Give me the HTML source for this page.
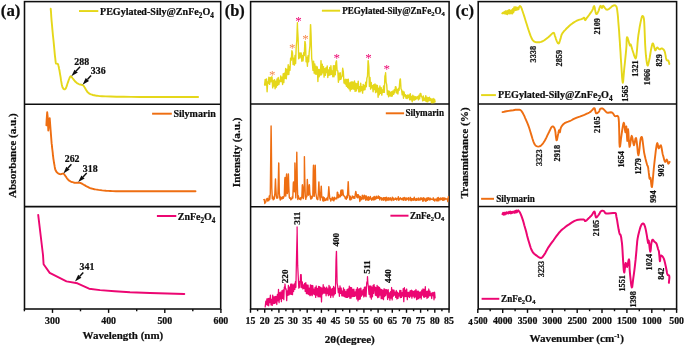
<!DOCTYPE html>
<html><head><meta charset="utf-8"><title>figure</title>
<style>
html,body{margin:0;padding:0;background:#fff;overflow:hidden}
svg{display:block;will-change:transform}
text{font-family:"Liberation Serif","DejaVu Serif",serif;font-weight:bold;fill:#0e0e0e;stroke:#0e0e0e;stroke-width:0.22px}
</style></head><body>
<svg width="685" height="347" viewBox="0 0 685 347">
<rect width="685" height="347" fill="#fff"/>
<rect x="24.5" y="1.6" width="196.2" height="307.4" fill="none" stroke="#0e0e0e" stroke-width="1.55"/>
<line x1="24.5" y1="104.25" x2="220.7" y2="104.25" stroke="#0e0e0e" stroke-width="1.55"/>
<line x1="24.5" y1="206.6" x2="220.7" y2="206.6" stroke="#0e0e0e" stroke-width="1.55"/>
<text x="0.8" y="16.2" font-size="16.5" textLength="19.6" lengthAdjust="spacingAndGlyphs" >(a)</text>
<line x1="52.5" y1="309.0" x2="52.5" y2="312.9" stroke="#0e0e0e" stroke-width="1.4"/>
<line x1="108.6" y1="309.0" x2="108.6" y2="312.9" stroke="#0e0e0e" stroke-width="1.4"/>
<line x1="164.8" y1="309.0" x2="164.8" y2="312.9" stroke="#0e0e0e" stroke-width="1.4"/>
<line x1="220.9" y1="309.0" x2="220.9" y2="312.9" stroke="#0e0e0e" stroke-width="1.4"/>
<line x1="24.4" y1="309.0" x2="24.4" y2="311.3" stroke="#0e0e0e" stroke-width="1.4"/>
<line x1="80.5" y1="309.0" x2="80.5" y2="311.3" stroke="#0e0e0e" stroke-width="1.4"/>
<line x1="136.7" y1="309.0" x2="136.7" y2="311.3" stroke="#0e0e0e" stroke-width="1.4"/>
<line x1="192.8" y1="309.0" x2="192.8" y2="311.3" stroke="#0e0e0e" stroke-width="1.4"/>
<text x="52.5" y="323.8" font-size="9.9" text-anchor="middle" >300</text>
<text x="108.6" y="323.8" font-size="9.9" text-anchor="middle" >400</text>
<text x="164.8" y="323.8" font-size="9.9" text-anchor="middle" >500</text>
<text x="220.9" y="323.8" font-size="9.9" text-anchor="middle" >600</text>
<text x="122.9" y="339.2" font-size="11" text-anchor="middle" textLength="80.7" lengthAdjust="spacingAndGlyphs" >Wavelength (nm)</text>
<text x="15.9" y="155.6" font-size="11" text-anchor="middle" transform="rotate(-90 15.9 155.6)" textLength="84.8" lengthAdjust="spacingAndGlyphs" >Absorbance (a.u.)</text>
<polyline points="50.7,8.8 50.9,10.9 51.1,13.7 51.3,17.1 51.6,20.9 52.0,25.0 52.4,29.6 52.9,35.0 53.5,40.5 54.0,45.7 54.4,50.0 54.7,53.4 55.0,56.3 55.3,58.7 55.5,60.7 55.7,62.2 55.9,63.2 56.0,63.5 56.1,63.6 56.2,63.5 56.4,63.5 56.6,63.6 56.9,63.7 57.1,63.7 57.4,63.8 57.6,63.9 57.8,64.0 57.9,64.0 58.0,64.1 58.1,64.4 58.3,65.0 58.5,65.9 58.8,67.0 59.0,68.4 59.4,70.0 59.7,71.9 60.1,74.3 60.6,77.2 61.0,80.2 61.5,82.9 61.9,85.0 62.2,86.3 62.5,87.2 62.7,87.7 63.0,88.0 63.2,88.4 63.4,88.8 63.7,89.0 63.9,89.2 64.2,89.3 64.4,89.4 64.6,89.4 64.8,89.3 65.0,89.2 65.2,89.0 65.4,88.8 65.6,88.6 65.7,88.5 65.9,88.2 66.0,87.8 66.3,87.2 66.7,86.2 67.1,84.8 67.6,83.3 68.1,81.9 68.5,80.7 68.8,79.8 69.1,79.0 69.4,78.4 69.6,77.9 69.8,77.4 70.0,77.0 70.2,76.7 70.4,76.5 70.5,76.4 70.7,76.3 70.9,76.3 71.0,76.4 71.2,76.5 71.4,76.7 71.6,76.9 71.8,77.1 72.0,77.4 72.2,77.7 72.4,78.0 72.8,78.5 73.3,79.1 73.9,79.9 74.5,80.7 75.2,81.5 75.8,82.1 76.4,82.6 76.9,83.0 77.5,83.4 78.1,83.7 78.7,84.0 79.4,84.3 80.2,84.5 81.0,84.7 81.7,84.8 82.3,85.0 82.7,85.2 83.0,85.3 83.1,85.4 83.3,85.6 83.5,85.8 83.7,86.0 83.9,86.2 84.0,86.4 84.2,86.8 84.5,87.2 84.9,87.8 85.3,88.6 85.8,89.4 86.3,90.2 86.7,90.9 87.1,91.4 87.4,91.9 87.8,92.2 88.1,92.6 88.5,92.9 88.8,93.2 89.1,93.4 89.4,93.6 89.8,93.9 90.4,94.1 91.1,94.4 92.0,94.7 92.9,95.0 94.1,95.2 95.5,95.5 96.8,95.7 98.1,95.9 99.6,96.1 102.0,96.2 105.7,96.4 110.6,96.5 116.5,96.7 123.4,96.8 131.2,96.9 140.0,97.0 151.0,97.0 164.3,97.0 177.9,97.0 189.8,97.0 198.1,97.0" fill="none" stroke="#e5d71a" stroke-width="1.9" stroke-linejoin="round" stroke-linecap="round" />
<polyline points="46.4,125.4 46.7,119.0 47.2,112.3 47.8,118.0 48.3,130.5 48.9,124.0 49.7,118.1 50.6,130.0 51.6,143.0 51.7,143.9 51.9,145.2 52.0,146.7 52.2,148.4 52.4,150.0 52.6,151.6 52.8,153.4 52.9,155.2 53.2,157.0 53.4,158.8 53.7,160.7 54.0,162.8 54.4,164.9 54.7,166.7 55.0,168.2 55.2,169.2 55.4,169.9 55.6,170.3 55.8,170.6 56.0,171.0 56.2,171.4 56.4,171.7 56.6,172.0 56.9,172.3 57.2,172.6 57.6,172.9 58.1,173.3 58.7,173.6 59.2,173.9 59.7,174.1 60.1,174.2 60.5,174.2 60.8,174.1 61.2,174.1 61.5,174.0 61.8,173.9 62.2,173.8 62.5,173.7 62.8,173.6 63.1,173.6 63.3,173.6 63.5,173.7 63.7,173.9 63.9,174.0 64.1,174.2 64.3,174.4 64.4,174.6 64.6,174.8 64.8,175.1 65.1,175.5 65.5,176.1 66.1,176.9 66.6,177.8 67.2,178.6 67.7,179.2 68.1,179.7 68.5,180.0 68.8,180.3 69.1,180.6 69.5,180.8 69.8,181.0 70.2,181.2 70.5,181.4 70.9,181.6 71.4,181.8 72.0,182.0 72.7,182.2 73.4,182.5 74.2,182.7 75.0,182.8 75.9,182.9 76.8,182.8 77.8,182.8 78.7,182.8 79.4,182.8 79.9,182.9 80.3,182.9 80.6,183.0 80.9,183.2 81.2,183.3 81.5,183.4 81.8,183.6 82.1,183.7 82.5,184.0 83.1,184.3 83.9,184.8 85.0,185.4 86.1,186.1 87.2,186.7 88.2,187.2 89.0,187.6 89.6,187.9 90.2,188.1 90.8,188.3 91.5,188.5 92.2,188.7 92.8,188.9 93.5,189.0 94.4,189.2 95.5,189.4 96.9,189.6 98.5,189.9 100.3,190.1 102.2,190.4 104.2,190.6 106.1,190.8 108.1,190.9 110.2,191.0 112.7,191.1 115.9,191.2 119.4,191.3 123.1,191.3 127.5,191.3 133.0,191.3 140.0,191.3 150.0,191.3 162.6,191.3 175.8,191.2 187.4,191.2 195.5,191.2" fill="none" stroke="#ee6e12" stroke-width="1.9" stroke-linejoin="round" stroke-linecap="round" />
<polyline points="38.2,214.9 43.0,255.0 43.6,264.2 49.7,272.9 66.5,281.4 77.4,283.3 89.1,288.7 100.1,290.1 114.7,291.3 130.0,292.3 150.0,293.0 184.3,294.0" fill="none" stroke="#ec0672" stroke-width="1.9" stroke-linejoin="round" stroke-linecap="round" />
<line x1="79.0" y1="11.05" x2="98.3" y2="11.05" stroke="#e5d71a" stroke-width="1.95"/>
<text x="100.0" y="14.8" font-size="10.5" textLength="113.8" lengthAdjust="spacingAndGlyphs" >PEGylated-Sily@ZnFe<tspan font-size="7.5" dy="2.7">2</tspan><tspan dy="-2.7">O</tspan><tspan font-size="7.5" dy="2.7">4</tspan></text>
<line x1="152.1" y1="113.7" x2="171.8" y2="113.7" stroke="#ee6e12" stroke-width="1.95"/>
<text x="173.4" y="116.8" font-size="10.5" textLength="42.4" lengthAdjust="spacingAndGlyphs" >Silymarin</text>
<line x1="156.9" y1="216.0" x2="176.3" y2="216.0" stroke="#ec0672" stroke-width="1.95"/>
<text x="177.8" y="219.8" font-size="10.5" textLength="37.6" lengthAdjust="spacingAndGlyphs" >ZnFe<tspan font-size="7.5" dy="2.7">2</tspan><tspan dy="-2.7">O</tspan><tspan font-size="7.5" dy="2.7">4</tspan></text>
<text x="74.3" y="64.5" font-size="9.9" >288</text>
<line x1="80.1" y1="66.8" x2="76.1" y2="71.1" stroke="#0e0e0e" stroke-width="1.45"/>
<polygon points="71.4,76.3 74.5,69.7 77.8,72.6" fill="#0e0e0e"/>
<text x="90.8" y="74.1" font-size="9.9" >336</text>
<line x1="91.1" y1="75.5" x2="87.4" y2="79.6" stroke="#0e0e0e" stroke-width="1.45"/>
<polygon points="82.6,84.7 85.7,78.1 89.0,81.1" fill="#0e0e0e"/>
<text x="64.7" y="161.7" font-size="9.9" >262</text>
<line x1="71.4" y1="164.2" x2="68.0" y2="168.1" stroke="#0e0e0e" stroke-width="1.45"/>
<polygon points="63.4,173.4 66.3,166.7 69.7,169.6" fill="#0e0e0e"/>
<text x="82.8" y="171.8" font-size="9.9" >318</text>
<line x1="86.7" y1="173.1" x2="83.0" y2="177.0" stroke="#0e0e0e" stroke-width="1.45"/>
<polygon points="78.2,182.1 81.4,175.5 84.6,178.5" fill="#0e0e0e"/>
<text x="79.5" y="270.4" font-size="9.9" >341</text>
<line x1="83.3" y1="272.6" x2="79.8" y2="276.3" stroke="#0e0e0e" stroke-width="1.45"/>
<polygon points="75.0,281.4 78.2,274.8 81.4,277.8" fill="#0e0e0e"/>
<rect x="250.6" y="1.6" width="198.50000000000003" height="307.4" fill="none" stroke="#0e0e0e" stroke-width="1.55"/>
<line x1="250.6" y1="104.05" x2="449.1" y2="104.05" stroke="#0e0e0e" stroke-width="1.55"/>
<line x1="250.6" y1="206.8" x2="449.1" y2="206.8" stroke="#0e0e0e" stroke-width="1.55"/>
<text x="224.8" y="16.2" font-size="16" textLength="20.0" lengthAdjust="spacingAndGlyphs" >(b)</text>
<line x1="250.5" y1="309.0" x2="250.5" y2="312.8" stroke="#0e0e0e" stroke-width="1.4"/>
<line x1="264.7" y1="309.0" x2="264.7" y2="312.8" stroke="#0e0e0e" stroke-width="1.4"/>
<line x1="278.9" y1="309.0" x2="278.9" y2="312.8" stroke="#0e0e0e" stroke-width="1.4"/>
<line x1="293.0" y1="309.0" x2="293.0" y2="312.8" stroke="#0e0e0e" stroke-width="1.4"/>
<line x1="307.2" y1="309.0" x2="307.2" y2="312.8" stroke="#0e0e0e" stroke-width="1.4"/>
<line x1="321.4" y1="309.0" x2="321.4" y2="312.8" stroke="#0e0e0e" stroke-width="1.4"/>
<line x1="335.6" y1="309.0" x2="335.6" y2="312.8" stroke="#0e0e0e" stroke-width="1.4"/>
<line x1="349.7" y1="309.0" x2="349.7" y2="312.8" stroke="#0e0e0e" stroke-width="1.4"/>
<line x1="363.9" y1="309.0" x2="363.9" y2="312.8" stroke="#0e0e0e" stroke-width="1.4"/>
<line x1="378.1" y1="309.0" x2="378.1" y2="312.8" stroke="#0e0e0e" stroke-width="1.4"/>
<line x1="392.3" y1="309.0" x2="392.3" y2="312.8" stroke="#0e0e0e" stroke-width="1.4"/>
<line x1="406.5" y1="309.0" x2="406.5" y2="312.8" stroke="#0e0e0e" stroke-width="1.4"/>
<line x1="420.6" y1="309.0" x2="420.6" y2="312.8" stroke="#0e0e0e" stroke-width="1.4"/>
<line x1="434.8" y1="309.0" x2="434.8" y2="312.8" stroke="#0e0e0e" stroke-width="1.4"/>
<line x1="449.0" y1="309.0" x2="449.0" y2="312.8" stroke="#0e0e0e" stroke-width="1.4"/>
<line x1="257.6" y1="309.0" x2="257.6" y2="311.2" stroke="#0e0e0e" stroke-width="1.4"/>
<line x1="271.8" y1="309.0" x2="271.8" y2="311.2" stroke="#0e0e0e" stroke-width="1.4"/>
<line x1="285.9" y1="309.0" x2="285.9" y2="311.2" stroke="#0e0e0e" stroke-width="1.4"/>
<line x1="300.1" y1="309.0" x2="300.1" y2="311.2" stroke="#0e0e0e" stroke-width="1.4"/>
<line x1="314.3" y1="309.0" x2="314.3" y2="311.2" stroke="#0e0e0e" stroke-width="1.4"/>
<line x1="328.5" y1="309.0" x2="328.5" y2="311.2" stroke="#0e0e0e" stroke-width="1.4"/>
<line x1="342.7" y1="309.0" x2="342.7" y2="311.2" stroke="#0e0e0e" stroke-width="1.4"/>
<line x1="356.8" y1="309.0" x2="356.8" y2="311.2" stroke="#0e0e0e" stroke-width="1.4"/>
<line x1="371.0" y1="309.0" x2="371.0" y2="311.2" stroke="#0e0e0e" stroke-width="1.4"/>
<line x1="385.2" y1="309.0" x2="385.2" y2="311.2" stroke="#0e0e0e" stroke-width="1.4"/>
<line x1="399.4" y1="309.0" x2="399.4" y2="311.2" stroke="#0e0e0e" stroke-width="1.4"/>
<line x1="413.6" y1="309.0" x2="413.6" y2="311.2" stroke="#0e0e0e" stroke-width="1.4"/>
<line x1="427.7" y1="309.0" x2="427.7" y2="311.2" stroke="#0e0e0e" stroke-width="1.4"/>
<line x1="441.9" y1="309.0" x2="441.9" y2="311.2" stroke="#0e0e0e" stroke-width="1.4"/>
<text x="250.5" y="323.7" font-size="9.8" text-anchor="middle" >15</text>
<text x="264.7" y="323.7" font-size="9.8" text-anchor="middle" >20</text>
<text x="278.9" y="323.7" font-size="9.8" text-anchor="middle" >25</text>
<text x="293.0" y="323.7" font-size="9.8" text-anchor="middle" >30</text>
<text x="307.2" y="323.7" font-size="9.8" text-anchor="middle" >35</text>
<text x="321.4" y="323.7" font-size="9.8" text-anchor="middle" >40</text>
<text x="335.6" y="323.7" font-size="9.8" text-anchor="middle" >45</text>
<text x="349.7" y="323.7" font-size="9.8" text-anchor="middle" >50</text>
<text x="363.9" y="323.7" font-size="9.8" text-anchor="middle" >55</text>
<text x="378.1" y="323.7" font-size="9.8" text-anchor="middle" >60</text>
<text x="392.3" y="323.7" font-size="9.8" text-anchor="middle" >65</text>
<text x="406.5" y="323.7" font-size="9.8" text-anchor="middle" >70</text>
<text x="420.6" y="323.7" font-size="9.8" text-anchor="middle" >75</text>
<text x="434.8" y="323.7" font-size="9.8" text-anchor="middle" >80</text>
<text x="449.0" y="323.7" font-size="9.8" text-anchor="middle" >85</text>
<text x="349.8" y="343.0" font-size="11" text-anchor="middle" textLength="50.0" lengthAdjust="spacingAndGlyphs" >2θ(degree)</text>
<text x="240.1" y="152.4" font-size="11" text-anchor="middle" transform="rotate(-90 240.1 152.4)" textLength="69.6" lengthAdjust="spacingAndGlyphs" >Intensity (a.u.)</text>
<polyline points="264.6,85.1 265.2,79.4 265.8,85.0 266.5,78.9 267.1,91.8 267.7,82.0 268.3,83.3 268.9,77.1 269.6,84.4 270.2,77.6 270.8,81.9 271.4,76.9 271.4,80.0 272.0,76.9 272.7,87.9 273.3,80.5 273.9,86.1 274.5,79.6 275.1,88.8 275.8,81.3 276.4,87.1 277.0,79.0 277.6,85.2 278.2,77.5 278.9,84.5 279.5,80.4 280.1,81.7 280.7,76.0 281.3,81.6 282.0,77.3 282.6,84.5 283.2,73.8 283.8,82.6 284.4,73.1 285.1,78.3 285.7,68.4 286.3,78.8 286.9,69.4 287.5,74.6 288.2,64.8 288.8,74.5 289.4,66.5 290.0,70.2 290.6,58.3 291.3,60.1 291.9,50.6 291.9,50.6 292.5,52.7 293.1,64.5 293.7,58.2 294.4,65.1 295.0,55.5 295.6,63.5 296.2,46.8 296.8,40.3 297.4,22.8 297.5,27.7 298.1,38.0 298.7,58.7 299.3,53.0 299.9,57.9 300.6,53.0 300.8,53.0 301.2,53.0 301.8,61.3 302.4,55.4 303.0,60.9 303.7,52.7 304.3,55.5 304.9,41.4 305.0,41.4 305.5,44.3 306.1,61.7 306.8,57.4 307.4,66.3 308.0,55.7 308.6,61.8 309.2,52.4 309.9,45.9 310.5,24.6 310.6,24.6 311.1,36.0 311.7,58.3 312.3,62.7 313.0,70.4 313.6,61.1 314.2,73.1 314.8,64.0 315.4,74.1 316.1,66.2 316.7,74.2 317.3,66.9 317.9,81.5 318.5,69.5 319.2,76.8 319.8,69.5 320.4,75.0 321.0,60.6 321.6,74.8 322.3,64.2 322.9,72.7 323.5,66.6 324.1,77.1 324.7,68.8 325.4,75.3 326.0,67.7 326.6,72.6 327.2,66.0 327.8,77.5 328.5,70.0 329.1,75.3 329.7,67.5 330.3,74.7 330.9,65.7 331.6,74.4 332.2,70.9 332.8,76.8 333.4,65.7 334.0,76.8 334.7,65.7 335.3,74.7 335.9,62.4 336.5,60.8 336.5,60.8 337.1,70.7 337.8,70.9 338.4,82.2 339.0,73.3 339.6,79.8 340.2,72.8 340.9,79.4 341.5,77.1 342.1,76.4 342.7,68.1 342.7,68.7 343.3,71.4 344.0,83.0 344.6,80.0 345.2,84.0 345.8,79.3 346.4,86.2 347.1,79.4 347.7,87.5 348.3,79.2 348.9,88.8 349.5,82.9 350.2,91.0 350.8,82.1 351.4,89.3 352.0,81.6 352.6,88.9 353.3,82.2 353.9,89.2 354.5,81.0 355.1,91.4 355.7,83.2 356.4,90.9 357.0,83.7 357.6,88.5 358.2,81.1 358.8,91.9 359.5,86.7 360.1,91.8 360.7,83.2 361.3,90.5 361.9,86.6 362.6,93.1 363.2,84.4 363.8,90.1 364.4,85.5 365.0,89.6 365.7,82.2 366.3,86.8 366.9,78.1 367.5,76.2 368.1,60.6 368.2,60.6 368.8,66.3 369.4,86.4 370.0,77.4 370.6,89.1 371.2,82.4 371.9,87.9 372.5,85.6 373.1,91.7 373.7,84.8 374.3,89.5 375.0,83.9 375.6,92.6 376.2,85.0 376.8,91.7 377.4,85.5 378.1,97.2 378.7,88.1 379.3,94.8 379.9,86.0 380.5,93.4 381.2,87.8 381.8,95.1 382.4,90.0 383.0,92.4 383.6,85.9 384.3,92.4 384.9,76.3 385.5,74.3 385.6,72.8 386.1,82.1 386.7,84.6 387.4,94.5 388.0,90.8 388.6,96.8 389.2,91.2 389.8,95.7 390.5,92.2 391.1,96.4 391.7,91.7 392.3,96.0 392.9,91.0 393.6,94.3 394.2,89.8 394.8,92.8 395.4,86.8 395.5,86.8 396.0,86.9 396.7,93.0 397.3,89.5 397.9,94.0 398.5,88.4 399.1,90.3 399.8,80.9 400.2,79.0 400.4,79.0 401.0,88.7 401.6,89.9 402.2,94.9 402.9,91.1 403.5,98.2 404.1,92.0 404.7,96.1 405.3,94.7 406.0,98.2 406.6,95.4 407.2,98.5 407.8,95.0 408.4,97.5 409.1,95.0 409.7,99.8 410.3,93.6 410.9,99.7 411.5,96.5 412.2,101.7 412.8,95.3 413.4,100.0 414.0,96.3 414.6,100.1 415.3,96.6 415.9,99.4 416.5,97.0 417.1,98.2 417.7,96.5 418.4,99.9 419.0,95.1 419.6,98.9 420.2,93.4 420.8,93.4 420.8,93.4 421.5,96.8 422.1,96.9 422.7,100.8 423.3,95.9 423.9,100.2 424.6,98.2 425.2,100.7 425.8,95.7 426.4,101.6 427.0,97.3 427.7,101.8 428.3,97.6 428.9,100.8 429.5,97.3 430.1,100.4 430.8,98.6 431.4,102.7 432.0,99.2 432.6,102.7 433.2,98.5 433.9,102.7 434.5,99.1 435.1,101.9" fill="none" stroke="#e5d71a" stroke-width="1.4" stroke-linejoin="round" stroke-linecap="round" />
<polyline points="263.8,199.6 264.3,199.5 264.8,203.5 265.3,202.3 265.8,202.1 266.3,199.1 266.8,199.7 267.3,198.3 267.8,201.0 268.3,199.0 268.8,200.6 269.3,195.9 269.8,199.2 270.3,193.3 270.8,151.1 271.1,125.9 271.3,138.5 271.8,188.2 272.3,198.6 272.8,196.3 273.3,199.9 273.8,198.1 274.3,199.0 274.8,194.7 275.3,182.6 275.5,179.0 275.8,186.6 276.3,195.8 276.8,198.2 277.3,197.0 277.8,197.9 278.3,181.6 278.7,163.0 278.8,163.4 279.3,192.9 279.8,198.1 280.3,200.1 280.8,197.0 281.3,199.0 281.8,197.8 282.3,198.7 282.8,196.8 283.3,198.3 283.8,196.9 284.3,195.8 284.8,179.3 285.0,177.5 285.3,183.5 285.8,196.1 286.3,177.5 286.6,173.9 286.8,177.5 287.3,193.5 287.8,191.2 288.3,175.7 288.4,173.9 288.8,186.5 289.3,197.4 289.8,198.3 290.3,197.7 290.8,199.9 291.3,198.8 291.8,199.0 292.3,196.6 292.8,198.1 293.3,183.5 293.5,181.9 293.8,186.4 294.3,191.8 294.8,181.9 294.9,162.9 295.3,181.9 295.8,197.9 296.3,181.9 296.8,152.2 297.3,184.1 297.8,199.6 298.3,195.6 298.8,198.1 299.3,198.4 299.8,199.3 300.3,197.9 300.8,199.8 301.3,197.2 301.8,198.0 302.3,185.0 302.5,184.8 302.8,188.2 303.3,198.6 303.8,190.0 304.3,184.8 304.4,156.6 304.8,179.1 305.3,196.4 305.8,199.4 306.3,196.1 306.8,196.8 307.3,179.4 307.6,184.8 307.8,184.8 308.3,195.3 308.8,193.9 309.3,186.7 309.4,184.8 309.8,192.3 310.3,196.4 310.8,199.1 311.3,196.1 311.8,198.5 312.3,197.0 312.8,196.3 313.3,169.4 313.5,165.1 313.8,175.6 314.3,196.3 314.8,181.3 315.2,165.1 315.3,166.2 315.8,192.5 316.3,196.0 316.8,199.0 317.3,198.4 317.8,199.7 318.3,194.0 318.8,183.1 318.9,181.9 319.3,191.5 319.8,197.0 320.3,200.1 320.8,192.3 321.2,186.3 321.3,186.3 321.8,197.2 322.3,197.0 322.8,200.7 323.3,197.0 323.8,201.1 324.3,197.6 324.8,200.3 325.3,199.2 325.8,200.4 326.3,198.7 326.8,199.7 327.3,197.5 327.8,200.1 328.3,194.3 328.8,186.7 329.3,193.5 329.8,198.8 330.3,198.4 330.8,201.0 331.3,199.0 331.8,199.6 332.3,197.3 332.8,200.0 333.3,198.2 333.8,200.8 334.3,197.3 334.8,199.5 335.3,198.1 335.8,198.5 336.3,197.8 336.8,198.9 337.3,192.1 337.6,192.1 337.8,192.7 338.3,197.7 338.8,194.8 339.3,197.0 339.8,195.5 340.3,196.8 340.8,190.9 341.2,190.0 341.3,190.0 341.8,195.6 342.3,192.3 342.7,190.0 342.8,190.0 343.3,194.6 343.8,195.7 344.3,196.5 344.8,196.5 345.3,198.6 345.8,197.4 346.3,199.3 346.8,195.9 347.3,197.9 347.8,189.9 348.2,181.6 348.3,182.1 348.8,195.1 349.3,195.9 349.8,199.7 350.3,196.3 350.8,199.9 351.3,197.9 351.8,198.9 352.3,196.0 352.8,197.4 353.3,196.6 353.8,198.2 354.3,196.7 354.8,198.3 355.3,194.0 355.8,191.4 356.3,193.9 356.8,197.1 357.3,194.6 357.8,197.9 358.3,194.8 358.8,197.0 359.3,196.2 359.8,201.5 360.3,196.4 360.8,200.1 361.3,197.6 361.8,199.4 362.3,195.3 362.8,198.6 363.3,196.3 363.8,199.1 364.3,195.1 364.8,198.0 365.3,196.0 365.8,200.2 366.3,196.0 366.8,199.5 367.3,197.5 367.8,200.0 368.3,196.6 368.8,200.2 369.3,197.6 369.8,199.4 370.3,196.4 370.8,198.7 371.3,198.6 371.8,200.2 372.3,198.0 372.8,199.5 373.3,197.2 373.8,200.0 374.3,196.5 374.8,199.6 375.3,197.1 375.8,199.1 376.3,196.3 376.8,198.4 377.3,197.1 377.8,197.9 378.3,195.9 378.8,198.4 379.3,196.7 379.8,199.8 380.3,197.4 380.8,198.1 381.3,197.7 381.8,200.2 382.3,198.5 382.8,199.6 383.3,197.7 383.8,200.4 384.3,197.7 384.8,199.3 385.3,197.7 385.8,200.9 386.3,197.1 386.8,200.0 387.3,198.2 387.8,200.1 388.3,197.7 388.8,200.0 389.3,198.1 389.8,199.9 390.3,197.8 390.8,199.8 391.3,199.0 391.8,200.6 392.3,197.3 392.8,199.0 393.3,198.1 393.8,200.3 394.3,199.1 394.8,199.3 395.3,198.0 395.8,199.4 396.3,198.3 396.8,200.0 397.3,198.8 397.8,198.8 398.3,196.8 398.8,200.3 399.3,198.6 399.8,199.6 400.3,197.7 400.8,198.8 401.3,198.7 401.8,199.7 402.3,198.1 402.8,199.8 403.3,197.9 403.8,200.4 404.3,197.4 404.8,199.1 405.3,198.1 405.8,200.4 406.3,198.0 406.8,199.8 407.3,198.8 407.8,199.0 408.3,197.6 408.8,200.5 409.3,198.9 409.8,198.9 410.3,197.3 410.8,200.5 411.3,198.4 411.8,200.6 412.3,198.6 412.8,199.7 413.3,198.5 413.8,200.3 414.3,197.3 414.8,199.9 415.3,199.3 415.8,200.4 416.3,198.5 416.8,200.3 417.3,199.0 417.8,199.8 418.3,198.0 418.8,200.2 419.3,199.2 419.8,199.9 420.3,198.0 420.8,199.8 421.3,198.0 421.8,199.3 422.3,198.5 422.8,201.2 423.3,197.6 423.8,200.9 424.3,198.1 424.8,199.9 425.3,199.2 425.8,201.4 426.3,198.1 426.8,200.6 427.3,198.0 427.8,200.2 428.3,197.7 428.8,199.4 429.3,198.2 429.8,200.1 430.3,198.1 430.8,199.5 431.3,199.0 431.8,199.4 432.3,199.4 432.8,199.6 433.3,197.8 433.8,200.4 434.3,199.2 434.8,201.0 435.3,199.2 435.8,199.1 436.3,199.2 436.8,200.8 437.3,198.0 437.8,200.7 438.3,197.5 438.8,200.7 439.3,198.8 439.8,199.6 440.3,197.9 440.8,199.7 441.3,198.6 441.8,199.4 442.3,197.8 442.8,200.3 443.3,197.9 443.8,200.2 444.3,198.0 444.8,199.8 445.3,198.3 445.8,199.1 446.3,199.0 446.8,199.2 447.3,198.9 447.8,201.5 448.3,196.7" fill="none" stroke="#ee6e12" stroke-width="1.4" stroke-linejoin="round" stroke-linecap="round" />
<polyline points="265.2,306.9 265.8,301.2 266.4,304.7 266.9,298.9 267.5,305.1 268.1,298.3 268.7,305.8 269.3,298.3 269.8,302.6 270.4,295.1 271.0,304.9 271.6,299.3 272.2,305.4 272.7,295.1 273.3,303.6 273.9,296.8 274.5,303.4 275.1,296.4 275.6,302.9 276.2,296.4 276.8,304.5 277.4,294.4 278.0,300.9 278.5,289.4 279.1,302.7 279.7,292.6 280.3,299.0 280.9,292.0 281.4,301.6 282.0,290.6 282.6,298.4 283.2,289.9 283.8,299.6 284.3,287.4 284.9,286.2 285.0,284.0 285.5,289.0 286.1,288.9 286.7,300.7 287.2,290.8 287.8,295.4 288.4,285.4 289.0,294.9 289.6,287.2 290.1,294.2 290.7,284.2 291.3,294.4 291.9,283.8 292.5,294.6 293.0,284.9 293.6,291.5 294.2,283.9 294.8,289.4 295.4,281.7 295.9,287.3 296.5,258.0 297.1,232.8 297.1,226.9 297.7,265.9 298.3,278.0 298.8,288.1 299.4,281.5 300.0,287.3 300.6,274.7 300.8,274.7 301.2,274.7 301.7,287.7 302.3,281.9 302.9,289.0 303.5,284.8 304.1,288.4 304.6,283.4 305.2,291.4 305.8,282.6 306.4,293.7 307.0,284.8 307.5,293.8 308.1,285.2 308.7,294.5 309.3,288.1 309.9,295.7 310.4,284.9 311.0,295.0 311.6,285.4 312.2,295.7 312.8,285.5 313.3,294.0 313.9,289.1 314.5,294.7 315.1,287.3 315.7,297.4 316.2,285.9 316.8,295.1 317.4,288.3 318.0,296.8 318.6,286.3 319.1,296.8 319.7,286.7 320.3,296.9 320.9,287.3 321.5,301.9 322.0,288.2 322.6,294.0 323.2,284.7 323.8,293.2 324.4,287.1 324.9,293.2 325.5,288.1 326.1,295.8 326.7,287.1 327.3,293.6 327.8,288.9 328.4,295.6 329.0,285.4 329.6,294.9 330.2,286.9 330.7,297.5 331.3,289.0 331.9,295.1 332.5,288.3 333.1,297.1 333.6,286.4 334.2,294.9 334.8,287.8 335.4,293.6 336.0,260.7 336.4,251.4 336.5,251.4 337.1,283.1 337.7,286.4 338.3,292.7 338.9,288.3 339.4,296.3 340.0,285.8 340.6,293.3 341.2,288.0 341.8,295.8 342.3,291.0 342.9,296.0 343.5,287.9 344.1,296.4 344.7,289.7 345.2,297.1 345.8,291.7 346.4,297.4 347.0,289.6 347.6,297.4 348.1,288.9 348.7,296.7 349.3,286.2 349.9,298.3 350.5,287.3 351.0,298.1 351.6,287.7 352.2,296.6 352.8,289.3 353.4,296.5 353.9,289.2 354.5,296.4 355.1,291.9 355.7,295.9 356.3,289.4 356.8,299.0 357.4,287.6 358.0,300.9 358.6,289.1 359.2,299.4 359.7,288.6 360.3,299.0 360.9,288.0 361.5,296.2 362.1,290.8 362.6,294.8 363.2,289.4 363.8,297.0 364.4,287.2 365.0,296.0 365.5,287.0 366.1,296.7 366.7,282.9 367.3,280.9 367.5,276.6 367.9,283.5 368.4,286.6 369.0,294.3 369.6,286.0 370.2,297.2 370.8,285.9 371.3,299.1 371.9,287.0 372.5,296.8 373.1,285.3 373.7,293.3 374.1,284.5 374.2,290.0 374.8,286.9 375.4,295.3 376.0,287.5 376.6,295.8 377.1,285.4 377.7,297.7 378.3,286.7 378.9,297.1 379.5,287.4 380.0,295.2 380.6,289.0 381.2,298.6 381.8,289.5 382.4,298.7 382.9,290.1 383.5,299.7 384.1,288.7 384.7,296.5 385.3,289.5 385.8,295.3 386.4,289.5 386.5,289.5 387.0,290.3 387.6,299.5 388.2,289.5 388.7,297.6 389.3,292.9 389.9,300.1 390.5,291.6 391.1,298.2 391.6,287.5 392.2,299.9 392.8,289.8 393.4,296.1 394.0,290.0 394.5,295.2 395.1,292.1 395.7,297.4 396.3,290.5 396.9,299.0 397.4,292.2 398.0,298.4 398.6,293.2 399.2,296.0 399.8,290.3 400.3,297.6 400.9,290.3 401.5,297.4 402.1,292.7 402.7,296.0 403.2,288.6 403.8,301.7 404.4,287.7 405.0,296.7 405.6,290.1 406.1,296.5 406.7,289.0 407.3,299.7 407.9,292.3 408.5,296.7 409.0,292.2 409.6,297.5 410.2,290.7 410.8,296.2 411.4,290.2 411.9,298.2 412.5,290.9 413.1,296.1 413.7,291.4 414.3,297.8 414.8,290.7 415.4,296.9 416.0,289.5 416.6,299.6 417.2,291.1 417.7,299.0 418.3,291.1 418.9,298.7 419.5,292.2 420.1,297.4 420.6,291.8 421.2,299.0 421.8,290.1 422.4,295.1 423.0,288.9 423.5,297.0 424.1,289.3 424.7,297.3 425.3,286.7 425.9,296.4 426.4,291.3 427.0,298.5 427.6,291.1 428.2,297.5 428.8,289.0 429.3,295.9 429.9,291.2 430.5,295.6 431.1,293.5 431.7,298.5 432.2,292.5 432.8,295.7 433.4,292.5 434.0,299.8 434.6,292.2 435.1,297.8" fill="none" stroke="#ec0672" stroke-width="1.25" stroke-linejoin="round" stroke-linecap="round" />
<text x="298.4" y="25.1" font-size="13" text-anchor="middle" style="fill:#ec0672;stroke:none;font-weight:normal">*</text>
<text x="336.8" y="61.6" font-size="13" text-anchor="middle" style="fill:#ec0672;stroke:none;font-weight:normal">*</text>
<text x="368.5" y="61.9" font-size="13" text-anchor="middle" style="fill:#ec0672;stroke:none;font-weight:normal">*</text>
<text x="386.7" y="73.3" font-size="13" text-anchor="middle" style="fill:#ec0672;stroke:none;font-weight:normal">*</text>
<text x="272.3" y="78.6" font-size="13" text-anchor="middle" style="fill:#f58a4e;stroke:none;font-weight:normal">*</text>
<text x="292.3" y="52.1" font-size="13" text-anchor="middle" style="fill:#f58a4e;stroke:none;font-weight:normal">*</text>
<text x="305.4" y="43.3" font-size="13" text-anchor="middle" style="fill:#f58a4e;stroke:none;font-weight:normal">*</text>
<line x1="321.9" y1="10.7" x2="340.1" y2="10.7" stroke="#e5d71a" stroke-width="1.95"/>
<text x="342.2" y="13.9" font-size="9.5" textLength="102.6" lengthAdjust="spacingAndGlyphs" >PEGylated-Sily@ZnFe<tspan font-size="6.8" dy="2.4">2</tspan><tspan dy="-2.4">O</tspan><tspan font-size="6.8" dy="2.4">4</tspan></text>
<line x1="385.8" y1="113.3" x2="404.1" y2="113.3" stroke="#ee6e12" stroke-width="1.95"/>
<text x="405.4" y="116.1" font-size="9.5" textLength="38.6" lengthAdjust="spacingAndGlyphs" >Silymarin</text>
<line x1="390.4" y1="215.7" x2="408.5" y2="215.7" stroke="#ec0672" stroke-width="1.95"/>
<text x="409.9" y="218.8" font-size="9.5" textLength="34.4" lengthAdjust="spacingAndGlyphs" >ZnFe<tspan font-size="6.8" dy="2.4">2</tspan><tspan dy="-2.4">O</tspan><tspan font-size="6.8" dy="2.4">4</tspan></text>
<text x="300.3" y="218.2" font-size="9.2" text-anchor="middle" transform="rotate(-90 300.3 218.2)" >311</text>
<text x="339.0" y="239.7" font-size="9.2" text-anchor="middle" transform="rotate(-90 339.0 239.7)" >400</text>
<text x="288.2" y="276.4" font-size="9.2" text-anchor="middle" transform="rotate(-90 288.2 276.4)" >220</text>
<text x="370.2" y="267.0" font-size="9.2" text-anchor="middle" transform="rotate(-90 370.2 267.0)" >511</text>
<text x="390.7" y="276.0" font-size="9.2" text-anchor="middle" transform="rotate(-90 390.7 276.0)" >440</text>
<rect x="478.2" y="1.6" width="198.40000000000003" height="307.4" fill="none" stroke="#0e0e0e" stroke-width="1.55"/>
<line x1="478.2" y1="103.9" x2="676.6" y2="103.9" stroke="#0e0e0e" stroke-width="1.55"/>
<line x1="478.2" y1="206.5" x2="676.6" y2="206.5" stroke="#0e0e0e" stroke-width="1.55"/>
<text x="455.6" y="16.4" font-size="16" textLength="18.4" lengthAdjust="spacingAndGlyphs" >(c)</text>
<line x1="676.6" y1="309.0" x2="676.6" y2="312.9" stroke="#0e0e0e" stroke-width="1.4"/>
<line x1="651.8" y1="309.0" x2="651.8" y2="312.9" stroke="#0e0e0e" stroke-width="1.4"/>
<line x1="626.9" y1="309.0" x2="626.9" y2="312.9" stroke="#0e0e0e" stroke-width="1.4"/>
<line x1="602.0" y1="309.0" x2="602.0" y2="312.9" stroke="#0e0e0e" stroke-width="1.4"/>
<line x1="577.2" y1="309.0" x2="577.2" y2="312.9" stroke="#0e0e0e" stroke-width="1.4"/>
<line x1="552.4" y1="309.0" x2="552.4" y2="312.9" stroke="#0e0e0e" stroke-width="1.4"/>
<line x1="527.5" y1="309.0" x2="527.5" y2="312.9" stroke="#0e0e0e" stroke-width="1.4"/>
<line x1="502.7" y1="309.0" x2="502.7" y2="312.9" stroke="#0e0e0e" stroke-width="1.4"/>
<line x1="477.8" y1="309.0" x2="477.8" y2="312.9" stroke="#0e0e0e" stroke-width="1.4"/>
<line x1="664.2" y1="309.0" x2="664.2" y2="311.2" stroke="#0e0e0e" stroke-width="1.4"/>
<line x1="639.3" y1="309.0" x2="639.3" y2="311.2" stroke="#0e0e0e" stroke-width="1.4"/>
<line x1="614.5" y1="309.0" x2="614.5" y2="311.2" stroke="#0e0e0e" stroke-width="1.4"/>
<line x1="589.6" y1="309.0" x2="589.6" y2="311.2" stroke="#0e0e0e" stroke-width="1.4"/>
<line x1="564.8" y1="309.0" x2="564.8" y2="311.2" stroke="#0e0e0e" stroke-width="1.4"/>
<line x1="539.9" y1="309.0" x2="539.9" y2="311.2" stroke="#0e0e0e" stroke-width="1.4"/>
<line x1="515.1" y1="309.0" x2="515.1" y2="311.2" stroke="#0e0e0e" stroke-width="1.4"/>
<line x1="490.2" y1="309.0" x2="490.2" y2="311.2" stroke="#0e0e0e" stroke-width="1.4"/>
<text x="676.6" y="323.7" font-size="9.8" text-anchor="middle" >500</text>
<text x="651.8" y="323.7" font-size="9.8" text-anchor="middle" >1000</text>
<text x="626.9" y="323.7" font-size="9.8" text-anchor="middle" >1500</text>
<text x="602.0" y="323.7" font-size="9.8" text-anchor="middle" >2000</text>
<text x="577.2" y="323.7" font-size="9.8" text-anchor="middle" >2500</text>
<text x="552.4" y="323.7" font-size="9.8" text-anchor="middle" >3000</text>
<text x="527.5" y="323.7" font-size="9.8" text-anchor="middle" >3500</text>
<text x="502.7" y="323.7" font-size="9.8" text-anchor="middle" >4000</text>
<text x="474.0" y="323.7" font-size="9.8" textLength="13.6" lengthAdjust="spacingAndGlyphs" >500</text>
<text x="468.2" y="325.2" font-size="9" >4</text>
<text x="529.5" y="342.3" font-size="11" textLength="94.4" lengthAdjust="spacingAndGlyphs" >Wavenumber (cm<tspan font-size="7" dy="-4">-1</tspan><tspan dy="4">)</tspan></text>
<text x="468.5" y="152.8" font-size="11" text-anchor="middle" transform="rotate(-90 468.5 152.8)" textLength="91.3" lengthAdjust="spacingAndGlyphs" >Transmittance (%)</text>
<polyline points="502.3,13.4 503.0,12.7 503.6,13.2 504.2,12.1 504.9,13.6 505.5,11.2 506.1,13.9 506.7,11.1 507.3,14.2 508.0,10.7 508.6,13.4 509.2,10.0 509.8,13.6 510.4,10.6 511.1,13.4 511.7,10.2 512.3,13.6 512.9,8.9 513.5,12.2 514.2,7.3 514.8,10.2 515.4,7.3 516.0,10.0 516.6,7.4 517.3,9.6 517.9,7.8 518.5,9.3 519.1,6.9 520.0,6.0 520.2,6.1 520.4,6.3 520.7,6.6 521.0,7.0 521.2,7.4 521.4,7.9 521.7,8.6 522.0,9.5 522.4,10.7 522.9,12.2 523.5,14.0 524.2,16.1 525.0,18.7 525.9,21.7 526.9,24.8 527.8,27.7 528.7,30.5 529.7,33.4 530.6,35.9 531.5,38.0 532.2,39.4 532.9,40.4 533.6,41.1 534.4,41.6 535.4,42.0 536.5,42.3 537.7,42.3 538.8,42.3 539.9,42.2 541.0,41.9 542.1,41.5 543.2,40.9 544.4,40.2 545.7,39.2 547.0,38.2 548.3,37.2 549.7,36.0 551.1,34.6 552.4,33.4 553.4,32.8 554.0,33.0 554.3,33.7 554.6,34.7 554.9,35.8 555.4,37.1 555.9,38.8 556.5,40.4 557.0,41.6 557.5,42.5 557.9,43.2 558.4,43.5 558.8,43.5 559.2,42.9 559.5,41.9 559.9,40.7 560.3,39.4 560.7,38.1 561.1,36.6 561.5,35.0 562.2,33.6 563.1,32.3 564.1,31.0 565.3,29.8 566.5,28.5 567.9,27.2 569.4,25.8 570.9,24.5 572.4,23.4 573.9,22.4 575.4,21.5 576.9,20.7 578.2,20.1 579.5,19.6 580.7,19.3 581.7,19.0 582.6,18.7 583.2,18.3 583.6,17.9 583.8,17.6 584.1,17.6 584.4,18.1 584.7,19.0 584.9,19.8 585.2,20.2 585.5,20.1 585.8,19.6 586.1,19.0 586.6,18.2 587.3,17.3 588.2,16.2 589.1,15.0 589.9,13.9 590.6,12.9 591.3,11.9 591.9,11.0 592.5,10.0 593.0,8.8 593.4,7.3 593.8,6.3 594.2,6.1 594.7,7.5 595.1,9.9 595.6,12.4 596.1,13.9 596.6,14.1 597.1,13.7 597.7,12.7 598.2,11.7 598.8,10.3 599.3,8.5 599.9,6.8 600.4,5.8 600.8,5.9 601.2,6.7 601.6,7.6 601.9,8.0 602.2,7.6 602.4,6.8 602.7,6.0 603.1,5.8 603.8,6.4 604.6,7.6 605.5,8.7 606.3,9.5 607.0,9.7 607.7,9.6 608.4,9.2 609.2,8.8 610.1,8.1 611.0,7.3 611.9,6.4 612.8,5.8 613.6,5.5 614.4,5.3 615.2,5.4 615.8,5.8 616.3,6.3 616.6,7.0 616.9,8.2 617.2,10.2 617.6,13.3 618.0,17.2 618.3,21.7 618.7,26.3 619.1,31.1 619.4,36.2 619.8,41.4 620.1,46.7 620.5,52.1 620.8,57.8 621.2,63.2 621.5,68.1 621.8,72.9 622.1,77.6 622.5,81.3 622.8,82.7 623.2,81.2 623.5,77.5 623.9,72.7 624.3,68.1 624.8,63.6 625.3,58.6 625.8,53.7 626.2,49.4 626.5,45.5 626.6,41.8 626.7,38.9 627.0,37.2 627.4,37.3 627.9,38.8 628.5,40.7 628.9,42.3 629.2,43.4 629.5,44.3 629.8,45.1 630.0,45.6 630.2,45.5 630.3,44.9 630.5,44.4 630.8,44.6 631.2,45.7 631.7,47.4 632.2,49.3 632.8,51.2 633.5,53.3 634.2,55.7 635.0,57.6 635.6,58.4 636.0,57.8 636.3,56.3 636.6,54.0 636.9,51.2 637.2,47.8 637.5,43.7 637.9,39.2 638.4,35.0 639.1,30.7 639.8,26.2 640.6,22.1 641.3,19.0 641.8,17.1 642.1,16.2 642.5,15.9 642.8,16.1 643.2,16.4 643.5,17.1 643.9,18.7 644.2,21.9 644.5,27.7 644.8,35.4 645.1,43.4 645.5,50.0 645.9,55.2 646.4,59.7 646.9,63.2 647.4,65.3 647.8,65.7 648.2,64.7 648.6,62.8 649.1,60.6 649.7,57.7 650.3,54.0 650.9,50.3 651.5,47.5 651.9,45.6 652.3,44.2 652.6,43.4 653.0,43.4 653.5,44.6 654.1,46.8 654.7,49.0 655.2,50.3 655.7,50.2 656.1,49.2 656.6,48.1 657.1,47.5 657.7,47.7 658.3,48.3 659.0,49.0 659.6,49.4 660.2,49.3 660.7,48.8 661.2,48.5 661.8,48.4 662.5,48.7 663.2,49.2 663.9,50.0 664.6,51.2 665.1,53.1 665.6,55.6 666.0,58.0 666.5,59.7 667.0,60.4 667.5,60.5 668.0,60.4 668.4,60.6 668.7,61.4 669.0,62.4 669.2,63.3 669.3,64.0" fill="none" stroke="#e5d71a" stroke-width="1.9" stroke-linejoin="round" stroke-linecap="round" />
<polyline points="502.5,112.1 504.1,111.8 506.3,111.3 508.8,110.9 511.1,110.5 513.3,110.2 515.5,109.8 517.5,109.7 519.2,109.7 520.3,110.0 521.0,110.5 521.6,111.2 522.2,112.1 522.9,113.3 523.6,114.6 524.4,116.2 525.2,118.1 526.2,120.3 527.2,122.7 528.3,125.4 529.3,128.2 530.3,131.5 531.4,135.1 532.4,138.5 533.3,141.3 534.1,143.2 534.8,144.5 535.5,145.4 536.3,146.0 537.2,146.4 538.3,146.6 539.4,146.4 540.4,146.0 541.4,145.2 542.4,144.2 543.4,142.8 544.4,141.3 545.4,139.5 546.5,137.4 547.5,135.2 548.4,133.3 549.3,131.5 550.1,129.8 550.8,128.3 551.5,127.2 552.1,126.6 552.6,126.4 553.1,126.5 553.5,126.8 553.9,127.2 554.3,127.8 554.7,128.8 555.1,130.2 555.5,132.6 555.8,135.8 556.2,138.7 556.5,140.3 556.9,140.1 557.2,138.8 557.6,136.9 557.9,135.3 558.2,133.9 558.5,132.3 558.8,131.0 559.1,130.2 559.3,130.4 559.5,131.2 559.7,132.1 559.9,132.3 560.1,131.5 560.3,130.1 560.6,128.6 561.1,127.2 561.8,126.1 562.6,125.0 563.6,124.0 564.6,123.2 565.7,122.6 566.9,122.1 568.2,121.7 569.6,121.2 571.0,120.5 572.4,119.7 573.9,118.9 575.6,118.1 577.5,117.3 579.7,116.6 581.8,115.8 583.7,115.1 585.4,114.4 586.9,113.7 588.2,113.1 589.4,112.5 590.3,111.9 590.9,111.4 591.4,110.8 592.0,110.3 592.7,109.6 593.3,108.7 593.9,108.1 594.5,108.1 594.9,109.0 595.2,110.6 595.6,112.2 596.0,113.2 596.7,113.3 597.5,113.0 598.2,112.4 598.9,111.8 599.3,111.1 599.6,110.2 599.9,109.4 600.3,108.8 600.9,108.5 601.6,108.4 602.4,108.5 603.2,108.8 604.0,109.6 604.9,110.6 605.9,111.7 606.9,112.5 608.1,112.7 609.5,112.5 610.8,112.3 612.0,112.5 612.9,113.2 613.6,114.3 614.2,115.4 614.9,116.1 615.7,116.2 616.5,116.0 617.2,115.8 617.8,116.1 618.2,116.7 618.5,117.5 618.7,119.1 618.9,122.0 619.1,127.7 619.3,135.5 619.4,142.7 619.7,146.8 620.1,146.5 620.5,143.3 621.0,138.9 621.5,135.1 622.0,131.5 622.6,127.6 623.2,124.3 623.7,122.7 624.2,123.9 624.6,127.0 625.0,130.4 625.4,132.2 625.7,131.3 625.9,129.0 626.1,126.8 626.3,126.4 626.5,129.2 626.8,134.1 627.1,138.7 627.3,141.0 627.5,139.2 627.7,135.0 627.9,130.8 628.1,129.3 628.4,132.3 628.7,138.0 629.1,143.7 629.5,146.8 630.0,145.6 630.6,141.8 631.1,137.8 631.7,135.8 632.2,137.1 632.8,140.3 633.4,143.6 633.9,145.3 634.4,144.1 635.0,141.2 635.5,138.5 636.1,138.0 636.7,141.4 637.3,147.2 637.8,152.7 638.4,155.3 638.9,153.3 639.5,148.6 640.0,143.2 640.5,139.5 640.9,137.7 641.4,136.9 641.8,136.9 642.2,138.0 642.6,140.6 643.1,144.5 643.6,148.7 644.1,152.5 644.8,155.7 645.5,158.8 646.2,161.5 646.8,163.7 647.2,165.1 647.5,165.8 647.8,166.3 648.0,167.0 648.2,167.9 648.3,168.7 648.4,169.7 648.6,171.0 648.8,172.9 649.1,175.1 649.3,177.3 649.6,178.7 649.8,178.9 650.1,178.3 650.3,177.7 650.6,178.0 650.9,180.3 651.2,183.7 651.6,186.6 652.0,187.1 652.4,184.2 652.9,178.9 653.4,172.9 653.9,167.5 654.4,162.9 654.9,158.3 655.4,154.1 655.8,150.6 656.2,147.8 656.6,145.5 656.9,143.9 657.3,143.1 657.6,143.7 658.0,145.4 658.3,147.3 658.7,148.3 659.2,147.9 659.8,146.7 660.4,145.5 660.9,145.3 661.3,146.5 661.7,148.5 662.1,150.8 662.4,152.6 662.6,153.7 662.8,154.5 663.0,155.2 663.3,156.2 663.7,157.7 664.1,159.4 664.6,161.0 665.1,161.9 665.5,161.7 666.0,160.8 666.4,159.9 666.8,159.6 667.2,160.3 667.6,161.6 667.9,162.9 668.3,163.7 668.7,163.6 669.0,163.1 669.4,162.4 669.6,161.9" fill="none" stroke="#ee6e12" stroke-width="1.9" stroke-linejoin="round" stroke-linecap="round" />
<polyline points="502.5,214.1 503.1,212.9 503.7,214.6 504.3,212.7 504.9,214.5 505.5,212.7 506.1,213.8 506.7,212.2 507.3,213.3 507.9,212.6 508.5,213.5 509.1,211.9 509.7,213.0 510.3,211.6 510.9,213.5 511.5,212.0 512.1,212.9 512.7,211.9 513.3,212.5 513.9,211.6 514.5,212.8 515.1,211.0 515.7,212.5 516.3,210.4 516.9,212.2 518.2,210.4 518.6,210.8 519.1,211.4 519.7,212.2 520.2,213.1 520.7,214.1 521.1,215.1 521.6,216.4 522.2,218.1 522.9,220.1 523.6,222.5 524.3,225.2 525.2,228.2 526.2,231.8 527.2,235.9 528.3,239.9 529.3,243.3 530.1,245.9 530.8,248.0 531.5,249.8 532.3,251.4 533.2,252.7 534.2,253.7 535.2,254.6 536.3,255.4 537.5,256.3 538.7,257.2 539.9,257.8 541.0,258.0 541.9,257.6 542.7,256.8 543.5,255.7 544.4,254.4 545.3,252.9 546.3,251.1 547.3,249.2 548.4,247.3 549.6,245.6 550.8,243.9 552.1,242.1 553.5,240.3 554.9,238.3 556.4,236.2 558.0,234.1 559.5,232.2 561.0,230.6 562.5,229.2 564.1,228.0 565.6,226.8 567.1,225.6 568.7,224.6 570.2,223.6 571.6,222.7 572.9,221.9 574.1,221.2 575.3,220.6 576.7,220.1 578.4,219.8 580.4,219.5 582.3,219.4 583.7,219.5 584.4,219.9 584.7,220.4 584.9,221.0 585.3,221.1 586.1,220.7 587.0,219.9 587.9,219.0 588.8,218.1 589.6,217.4 590.3,216.6 591.1,215.9 591.8,215.1 592.5,214.0 593.2,212.8 593.9,211.8 594.5,211.6 594.9,212.6 595.2,214.5 595.6,216.3 596.0,217.4 596.6,217.3 597.4,216.5 598.2,215.5 598.9,214.5 599.5,213.6 600.0,212.6 600.5,211.7 601.1,211.1 601.8,210.8 602.6,210.7 603.3,210.9 604.0,211.1 604.4,211.6 604.7,212.3 605.2,213.0 606.2,213.5 608.1,213.5 610.6,213.2 613.1,212.9 614.9,213.0 615.7,213.3 616.0,213.8 616.1,214.8 616.4,216.7 617.1,220.1 617.8,224.7 618.6,229.3 619.3,232.7 619.8,234.2 620.1,234.6 620.5,234.7 620.8,235.7 621.2,237.5 621.5,239.8 621.9,242.6 622.2,245.9 622.5,250.3 622.8,255.6 623.1,260.8 623.4,265.0 623.6,268.1 623.8,270.5 624.1,272.1 624.3,272.5 624.6,271.0 624.9,268.0 625.3,264.9 625.6,263.1 626.0,263.4 626.3,264.9 626.7,266.4 627.1,266.9 627.6,265.3 628.1,262.6 628.6,260.1 629.0,259.4 629.3,261.2 629.5,264.5 629.6,268.6 629.9,272.5 630.3,276.7 630.8,281.4 631.3,285.4 631.8,287.5 632.2,287.0 632.5,284.7 632.9,281.4 633.3,278.1 633.8,274.7 634.3,270.8 634.8,266.8 635.2,263.1 635.6,259.7 635.9,256.3 636.2,253.1 636.5,250.0 636.7,247.0 637.0,244.2 637.2,241.4 637.6,238.6 638.2,235.5 639.0,232.2 639.8,229.2 640.5,226.9 641.2,225.3 641.8,224.3 642.4,223.7 643.0,223.5 643.6,223.7 644.1,224.4 644.6,225.5 645.1,226.9 645.6,228.9 646.1,231.4 646.6,234.1 647.0,236.4 647.3,238.5 647.6,240.4 647.9,242.0 648.1,243.0 648.3,242.8 648.4,241.6 648.6,240.6 648.8,240.8 649.1,243.1 649.5,246.7 649.9,250.0 650.3,251.7 650.6,250.8 650.9,248.2 651.1,245.3 651.4,243.0 651.7,241.7 652.0,240.7 652.3,240.0 652.6,239.7 653.0,239.8 653.4,240.3 653.8,240.9 654.3,241.5 654.8,242.0 655.4,242.4 656.0,242.9 656.5,243.7 656.9,244.8 657.3,246.2 657.7,247.6 658.0,248.8 658.3,249.6 658.5,250.1 658.8,250.8 659.0,252.0 659.2,254.2 659.5,257.1 659.7,259.8 659.9,261.2 660.1,260.6 660.2,258.8 660.4,256.8 660.8,255.6 661.4,255.6 662.2,256.1 663.0,257.1 663.7,258.4 664.3,260.1 664.9,262.4 665.4,264.7 665.9,266.9 666.3,269.0 666.7,271.0 667.0,272.9 667.4,274.3 667.9,275.1 668.5,275.3 669.0,275.5 669.3,276.2 669.4,277.7 669.2,279.6 669.0,281.5 668.9,282.8" fill="none" stroke="#ec0672" stroke-width="2.0" stroke-linejoin="round" stroke-linecap="round" />
<line x1="481.1" y1="95.1" x2="495.9" y2="95.1" stroke="#e5d71a" stroke-width="1.95"/>
<text x="498.1" y="98.3" font-size="10.5" textLength="114.4" lengthAdjust="spacingAndGlyphs" >PEGylated-Sily@ZnFe<tspan font-size="7.5" dy="2.7">2</tspan><tspan dy="-2.7">O</tspan><tspan font-size="7.5" dy="2.7">4</tspan></text>
<line x1="481.1" y1="198.8" x2="494.0" y2="198.8" stroke="#ee6e12" stroke-width="1.95"/>
<text x="496.2" y="201.7" font-size="9.5" textLength="38.6" lengthAdjust="spacingAndGlyphs" >Silymarin</text>
<line x1="481.6" y1="298.8" x2="499.3" y2="298.8" stroke="#ec0672" stroke-width="1.95"/>
<text x="501.1" y="302.0" font-size="9.5" textLength="34.3" lengthAdjust="spacingAndGlyphs" >ZnFe<tspan font-size="6.8" dy="2.4">2</tspan><tspan dy="-2.4">O</tspan><tspan font-size="6.8" dy="2.4">4</tspan></text>
<text x="535.6" y="54.2" font-size="8.2" text-anchor="middle" transform="rotate(-90 535.6 54.2)" >3338</text>
<text x="562.3" y="58.2" font-size="8.2" text-anchor="middle" transform="rotate(-90 562.3 58.2)" >2859</text>
<text x="600.0" y="26.3" font-size="8.2" text-anchor="middle" transform="rotate(-90 600.0 26.3)" >2109</text>
<text x="627.7" y="93.5" font-size="8.2" text-anchor="middle" transform="rotate(-90 627.7 93.5)" >1565</text>
<text x="638.2" y="68.5" font-size="8.2" text-anchor="middle" transform="rotate(-90 638.2 68.5)" >1321</text>
<text x="650.4" y="77.0" font-size="8.2" text-anchor="middle" transform="rotate(-90 650.4 77.0)" >1066</text>
<text x="662.5" y="60.4" font-size="8.2" text-anchor="middle" transform="rotate(-90 662.5 60.4)" >829</text>
<text x="542.2" y="157.7" font-size="8.2" text-anchor="middle" transform="rotate(-90 542.2 157.7)" >3323</text>
<text x="560.3" y="153.2" font-size="8.2" text-anchor="middle" transform="rotate(-90 560.3 153.2)" >2918</text>
<text x="599.8" y="124.7" font-size="8.2" text-anchor="middle" transform="rotate(-90 599.8 124.7)" >2105</text>
<text x="623.8" y="159.3" font-size="8.2" text-anchor="middle" transform="rotate(-90 623.8 159.3)" >1654</text>
<text x="640.6" y="166.3" font-size="8.2" text-anchor="middle" transform="rotate(-90 640.6 166.3)" >1279</text>
<text x="656.0" y="196.6" font-size="8.2" text-anchor="middle" transform="rotate(-90 656.0 196.6)" >994</text>
<text x="664.4" y="170.4" font-size="8.2" text-anchor="middle" transform="rotate(-90 664.4 170.4)" >903</text>
<text x="544.0" y="269.0" font-size="8.2" text-anchor="middle" transform="rotate(-90 544.0 269.0)" >3233</text>
<text x="599.4" y="228.0" font-size="8.2" text-anchor="middle" transform="rotate(-90 599.4 228.0)" >2105</text>
<text x="625.1" y="283.3" font-size="8.2" text-anchor="middle" transform="rotate(-90 625.1 283.3)" >1551</text>
<text x="635.7" y="299.4" font-size="8.2" text-anchor="middle" transform="rotate(-90 635.7 299.4)" >1398</text>
<text x="651.8" y="262.2" font-size="8.2" text-anchor="middle" transform="rotate(-90 651.8 262.2)" >1024</text>
<text x="663.8" y="273.7" font-size="8.2" text-anchor="middle" transform="rotate(-90 663.8 273.7)" >842</text>
</svg>
</body></html>
